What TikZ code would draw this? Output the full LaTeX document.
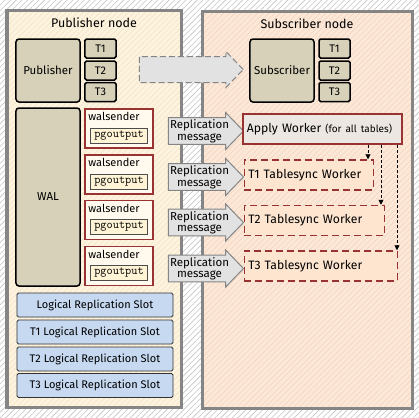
\documentclass[tikz,border=0pt]{standalone}
\usepackage{fontspec}
\setmainfont{Fira Sans}
\usetikzlibrary{arrows.meta,shapes.arrows,patterns.meta}
\definecolor{hatch}{HTML}{C4C4C4}
\definecolor{panelgray}{HTML}{858585}
\definecolor{pubfill}{HTML}{FDF3DE}
\definecolor{pubhatch}{HTML}{F2E2C4}
\definecolor{subfill}{HTML}{FDE8D8}
\definecolor{subhatch}{HTML}{EFD3BF}
\definecolor{khakifill}{HTML}{D6D1B8}
\definecolor{wsred}{HTML}{993333}
\definecolor{wsfill}{HTML}{FFF9EE}
\definecolor{pgfill}{HTML}{FFF4D6}
\definecolor{msgfill}{HTML}{E2E2E2}
\definecolor{awfill}{HTML}{ECE7E2}
\definecolor{tsfill}{HTML}{FDE5D0}
\definecolor{slotfill}{HTML}{C6D9F1}
\newcommand\fsz[2]{\fontsize{#1bp}{#2bp}\selectfont}
\tikzset{panel/.style={draw=panelgray,line width=3bp},
  khaki/.style={draw,rounded corners=3bp,fill=khakifill,line width=1.5bp,
    minimum width=64bp,inner sep=0pt,font=\fsz{11.5}{13}},
  tbox/.style={draw,rounded corners=1.5bp,fill=khakifill,line width=1.5bp,
    minimum width=31bp,minimum height=19bp,inner sep=0pt,font=\fsz{11}{13}},
  wsbox/.style={draw=wsred,fill=wsfill,line width=1.5bp,minimum width=68bp,
    minimum height=39bp,inner sep=0pt},
  pgbox/.style={draw=black!70,fill=pgfill,line width=.6bp,minimum width=57bp,
    minimum height=15bp,inner sep=0pt,font=\ttfamily\fsz{12}{13}},
  msg/.style={single arrow,draw=panelgray,fill=msgfill,line width=1bp,
    minimum height=75bp,single arrow head extend=5bp,
    single arrow tip angle=92,inner xsep=1bp,inner ysep=1.5bp,align=center,
    font=\fsz{11.5}{11.5}},
  worker/.style={draw=wsred,line width=1.5bp,minimum height=30bp,
    inner xsep=4bp,inner ysep=0pt,align=left,font=\fsz{12.2}{13}},
  tsync/.style={worker,dashed,dash pattern=on 7bp off 4bp,fill=tsfill},
  slot/.style={draw=black!80,rounded corners=1.5bp,fill=slotfill,line width=.8bp,
    minimum width=156bp,minimum height=24bp,inner sep=0pt,font=\fsz{11}{13}},
  dep/.style={-{Triangle[length=5bp,width=5bp]},dashed,dash pattern=on 3bp off 2bp,
    line width=.7bp}}

\begin{document}
\begin{tikzpicture}[x=1bp,y=-1bp]
  \path[use as bounding box] (0,0) rectangle (419,418);
  \fill[white] (0,0) rectangle (419,418);
  \fill[pattern={Lines[angle=45,distance=4bp,line width=.6bp]},pattern color=hatch]
    (0,0) rectangle (419,418);
  \fill[pubfill] (7,10) rectangle (181,407);
  \fill[pattern={Lines[angle=45,distance=4bp,line width=.5bp]},pattern color=pubhatch]
    (7,10) rectangle (181,407);
  \draw[panel] (7,10) rectangle (181,407);
  \fill[subfill] (202,11) rectangle (412,408);
  \fill[pattern={Lines[angle=45,distance=4bp,line width=.5bp]},pattern color=subhatch]
    (202,11) rectangle (412,408);
  \draw[panel] (202,11) rectangle (412,408);
  \node[font=\fsz{12.5}{14}] (pubtitle) at (94,22.5) {Publisher node};
  \node[font=\fsz{12.5}{14}] (subtitle) at (307,24) {Subscriber node};

  \node[khaki,minimum height=63bp] (pub) at (48,70.5) {Publisher};
  \node[khaki,minimum height=63bp] (sub) at (282,70.5) {Subscriber};
  \foreach \i/\y in {1/48.5,2/70.5,3/92}{
    \node[tbox] (pt\i) at (100.5,\y) {T\i};
    \node[tbox] (st\i) at (334.5,\y) {T\i};
  }
  \node[single arrow,draw=panelgray,fill=msgfill,line width=1bp,dashed,
    dash pattern=on 6bp off 3bp,minimum height=104bp,
    single arrow head extend=5bp,single arrow tip angle=92,inner xsep=0pt,
    inner ysep=12.5bp] (flow) at (185,69.5) {};

  \node[khaki,minimum height=178bp] (wal) at (48,197) {WAL};
  \foreach \i/\y in {1/128.5,2/174.5,3/220,4/266}{
    \node[wsbox] (ws\i) at (119,\y) {};
    \node[anchor=north west,inner sep=0pt,font=\fsz{11}{13}] (wst\i)
      at ([xshift=4bp,yshift=-4bp]ws\i.north west) {walsender};
    \node[pgbox] (pg\i) at ([yshift=-7bp]ws\i.center) {pgoutput};
    \node[msg] (rm\i) at (199.5,\y+2.5) {Replication\\message};
  }

  \node[worker,fill=awfill,text width=151bp] (aw) at (322.5,129)
    {Apply Worker {\fsz{10}{12}(for all tables)}};
  \foreach \i/\y/\w in {1/175/121,2/220.5/132,3/266/145}{
    \node[tsync,text width=\w bp,anchor=west] (tw\i) at (243.5,\y)
      {T\i{} Tablesync Worker};
  }
  \foreach \i/\d in {1/6,2/4,3/1}{
    \draw[dep] ([xshift=-\d bp]aw.south -| tw\i.east) -- ([xshift=-\d bp]tw\i.north east);
  }

  \foreach \i/\y/\t in {0/305/Logical Replication Slot,1/332/T1 Logical Replication Slot,
    2/359/T2 Logical Replication Slot,3/385.5/T3 Logical Replication Slot}{
    \node[slot] (slot\i) at (95,\y) {\t};
  }
\end{tikzpicture}
\end{document}
